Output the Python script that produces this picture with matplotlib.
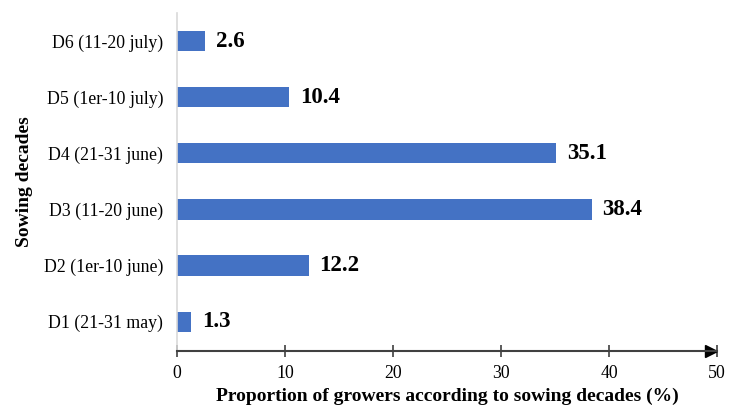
import matplotlib.pyplot as plt
from matplotlib.transforms import offset_copy

plt.rcParams['font.family'] = ['Liberation Serif', 'DejaVu Serif']

decades = ['D1 (21-31 may)', 'D2 (1er-10 june)', 'D3 (11-20 june)',
           'D4 (21-31 june)', 'D5 (1er-10 july)', 'D6 (11-20 july)']
growers_pct = [1.3, 12.2, 38.4, 35.1, 10.4, 2.6]
x_ticks = [0, 10, 20, 30, 40, 50]

fig = plt.figure(figsize=(7.29, 4.08), dpi=100)
ax = fig.add_axes([0.2428, 0.140, 0.7407, 0.828])

ypos = range(len(decades))
ax.barh(ypos, growers_pct, height=0.36, color='#4472C4')
for y, v in zip(ypos, growers_pct):
    ax.text(v + 1.0, y, f'{v}', va='center', ha='left',
            fontsize=16.5, fontweight='bold')

ax.set_xlim(0, 50)
ax.set_ylim(-0.52, 5.5)
ax.set_yticks(list(ypos))
ax.set_yticklabels(decades, fontsize=12.8)
ax.set_xticks(x_ticks)
ax.set_xticklabels([str(t) for t in x_ticks], fontsize=12.8)

for s in ['top', 'right']:
    ax.spines[s].set_visible(False)
ax.spines['left'].set_color('#d9d9d9')
ax.spines['left'].set_linewidth(1.2)
ax.spines['bottom'].set_color('#404040')
ax.spines['bottom'].set_linewidth(1.5)
ax.tick_params(axis='y', length=0, pad=10)
ax.tick_params(axis='x', direction='inout', length=8, width=1.2,
               color='#404040', pad=6)

# arrow head at the end of the x axis, tip on the last tick
tip = offset_copy(ax.transAxes, fig=fig, x=-4.5, y=0, units='points')
ax.plot(1, 0, marker='>', markersize=9, color='black',
        transform=tip, clip_on=False)

ax.set_xlabel('Proportion of growers according to sowing decades (%)',
              fontsize=14, fontweight='bold', labelpad=4)
ax.set_ylabel('Sowing decades', fontsize=14, fontweight='bold', labelpad=8)

fig.savefig('out.png', dpi=100)
